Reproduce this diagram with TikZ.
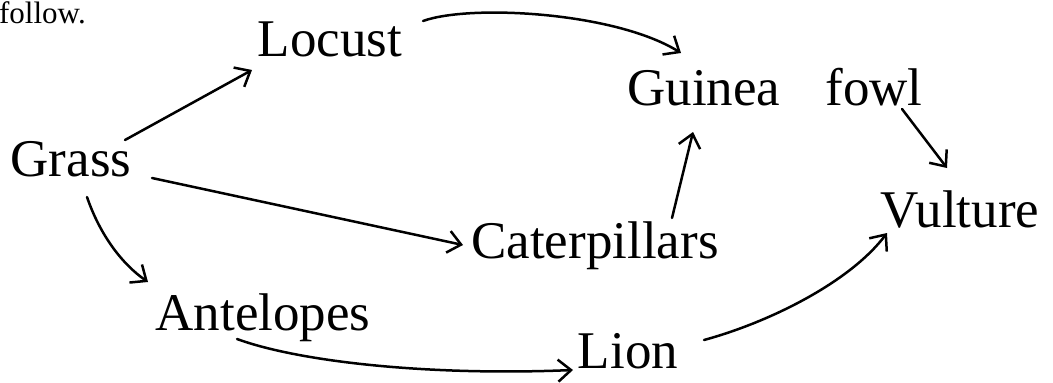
\documentclass[tikz,border=0pt]{standalone}
\usepackage{fontspec}
\setmainfont{Liberation Serif}
\usetikzlibrary{arrows.meta}
\tikzset{
  lbl/.style={anchor=base, inner sep=1pt, font=\fontsize{53}{56}\selectfont},
  arr/.style={line width=2.5pt, line cap=round, -{Straight Barb[length=13pt,width=22pt,line width=2.5pt]}}
}
\begin{document}
\begin{tikzpicture}[x=1pt,y=-1pt]
\clip (0,0) rectangle (1053,383);
\fill[white] (0,0) rectangle (1053,383);
\node[anchor=base east, inner sep=0pt, font=\fontsize{31}{34}\selectfont] (follow) at (86,23) {follow.};
\node[lbl] (grass) at (71,176) {Grass};
\node[lbl] (locust) at (330,56) {Locust};
\node[lbl] (guinea) at (775,105) {Guinea\hspace{45pt}fowl};
\node[lbl] (cat) at (595,258) {Caterpillars};
\node[lbl] (ant) at (263,330) {Antelopes};
\node[lbl] (lion) at (628,368) {Lion};
\node[lbl] (vult) at (960,227) {Vulture};
% Grass -> Locust
\draw[arr] ([shift={(54,-36)}]grass.base) -- ([shift={(-78,14)}]locust.base);
% Locust -> Guinea fowl
\draw[arr] ([shift={(93,-35)}]locust.base) .. controls (470,4) and (615,12) .. ([shift={(-94,-52)}]guinea.base);
% Grass -> Caterpillars
\draw[arr] ([shift={(81,2)}]grass.base) -- ([shift={(-132,-13)}]cat.base);
% Grass -> Antelopes
\draw[arr] ([shift={(16,21)}]grass.base) .. controls (100,235) and (122,264) .. ([shift={(-115,-48)}]ant.base);
% Caterpillars -> Guinea fowl
\draw[arr] ([shift={(77,-40)}]cat.base) -- ([shift={(-82,27)}]guinea.base);
% Guinea fowl -> Vulture
\draw[arr] ([shift={(127,4)}]guinea.base) -- ([shift={(-13,-59)}]vult.base);
% Antelopes -> Lion
\draw[arr] ([shift={(-26,9)}]ant.base) .. controls (300,362) and (430,376) .. ([shift={(-55,2)}]lion.base);
% Lion -> Vulture
\draw[arr] ([shift={(76,-28)}]lion.base) .. controls (770,322) and (850,282) .. ([shift={(-73,6)}]vult.base);
\end{tikzpicture}
\end{document}
